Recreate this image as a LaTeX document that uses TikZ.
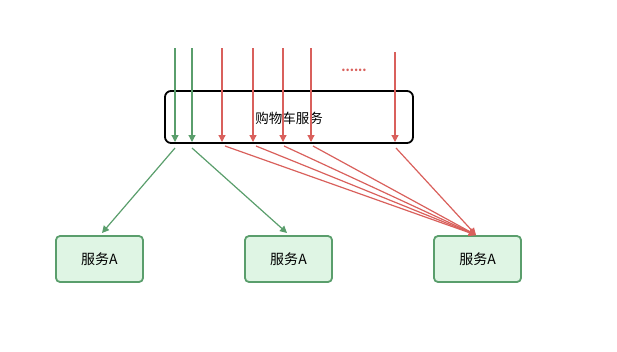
\documentclass[tikz,border=0pt]{standalone}
\usepackage{fontspec}
\setmainfont{Noto Sans CJK SC}
\usetikzlibrary{arrows.meta}
\definecolor{gline}{HTML}{5A9E6C}
\definecolor{rline}{HTML}{D9605C}
\definecolor{gfill}{HTML}{DFF5E4}
\definecolor{gstroke}{HTML}{5A9E6C}
\begin{document}
\begin{tikzpicture}[x=1pt,y=-1pt,
  garrow/.style={draw=gline,line width=1.2pt,-{Triangle[length=7pt,width=7pt]}},
  rarrow/.style={draw=rline,line width=1.2pt,-{Triangle[length=7pt,width=7pt]}},
  svcbox/.style={draw=gstroke,fill=gfill,line width=1.8pt,rounded corners=4pt,minimum width=87pt,minimum height=46pt,inner sep=0pt,font=\fontsize{14}{16}\selectfont},
  mainbox/.style={draw=black,line width=1.8pt,rounded corners=6pt,minimum width=248pt,minimum height=52pt,inner sep=0pt}]
\useasboundingbox (0,0) rectangle (617,351);
\node[mainbox] (cart) at (289,117) {};
\node[font=\fontsize{13.5}{16}\selectfont] (cartlabel) at (289,118) {购物车服务};
\node[svcbox] (s1) at (99.5,259) {\raisebox{-1.5pt}{服务A}};
\node[svcbox] (s2) at (288.5,259) {\raisebox{-1.5pt}{服务A}};
\node[svcbox] (s3) at (477.5,259) {\raisebox{-1.5pt}{服务A}};
\node[text=rline,font=\fontsize{12}{12}\selectfont\bfseries] (dots) at (354,70) {......};
% incoming
\foreach \n/\x/\y in {g1/175/48,g2/192/48}{
  \coordinate (\n top) at (\x,\y);
  \coordinate (\n bot) at (\x,142);
  \draw[garrow] (\n top) -- (\n bot);
}
\foreach \n/\x/\y in {r1/222/48,r2/253/48,r3/283/48,r4/311/48,r5/395/52}{
  \coordinate (\n top) at (\x,\y);
  \coordinate (\n bot) at (\x,142);
  \draw[rarrow] (\n top) -- (\n bot);
}
% outgoing
\coordinate (go1) at (175,148);
\coordinate (go2) at (192,148);
\coordinate (gt1) at (102,233);
\coordinate (gt2) at (287,233);
\draw[garrow] (go1) -- (gt1);
\draw[garrow] (go2) -- (gt2);
\coordinate (rt) at (476,235);
\foreach \x/\y in {225/146,256/146,284/146,313/146,396/148}{
  \draw[rarrow] (\x,\y) -- (rt);
}
\end{tikzpicture}
\end{document}
